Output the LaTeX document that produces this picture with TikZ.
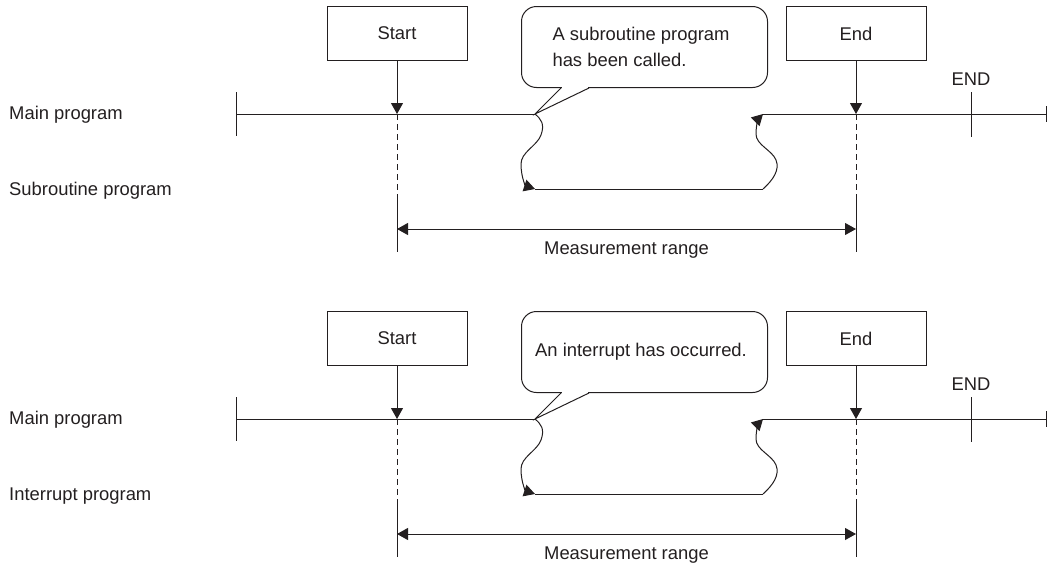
\documentclass[tikz,border=0pt]{standalone}
\usepackage{fontspec}
\setmainfont{Liberation Sans}
\usetikzlibrary{arrows.meta}
\definecolor{ink}{RGB}{35,31,32}
\tikzset{
  every node/.style={font=\fontsize{18.4}{26}\selectfont, text=ink, inner sep=0pt},
  line/.style={draw=ink, line width=1pt},
  tip/.style={-{Triangle[length=11pt,width=12pt]}},
  twotip/.style={{Triangle[length=11pt,width=12pt]}-{Triangle[length=11pt,width=12pt]}},
  labelbox/.style={line, rectangle, minimum width=140pt, minimum height=54pt},
  callbox/.style={line, rounded corners=15pt, minimum width=246pt, minimum height=81pt, fill=white},
  calltext/.style={align=left},
  dashline/.style={line, dash pattern=on 6pt off 4pt},
}
\newcommand\halfdiag[4]{%
\begin{scope}[yshift=-#2pt]
  % boxes
  \node[labelbox] (#1start) at (397,33.5) {Start};
  \node[labelbox] (#1end) at (856,33.5) {End};
  \node[callbox] (#1call) at (644.5,47) {};
  \node[calltext] (#1calltxt) at (641,47) {#3};
  % key points on the main line
  \coordinate (#1a) at (236,114);
  \coordinate (#1s) at (397,114);
  \coordinate (#1tip) at (535,114);
  \coordinate (#1w2) at (763,114);
  \coordinate (#1e) at (856,114);
  \coordinate (#1z) at (1046,114);
  \coordinate (#1b1) at (535,189);
  \coordinate (#1b2) at (763,189);
  \coordinate (#1sd) at (397,198);
  \coordinate (#1ed) at (856,198);
  \coordinate (#1sb) at (397,252);
  \coordinate (#1eb) at (856,252);
  \coordinate (#1ma) at (397,229);
  \coordinate (#1mb) at (856,229);
  % callout tail
  \fill[white] (562,86) rectangle (588,90);
  \draw[line, line join=miter] (561,88) -- (#1tip) -- (589,88);
  % main program line
  \draw[line] (#1a) -- (#1tip);
  \draw[line] (#1w2) -- (#1z);
  \draw[line] (236,92) -- (236,136);
  \draw[line] (971,92) -- (971,137);
  \draw[line] (1046,106) -- (1046,122);
  \node[anchor=base] (#1endlbl) at (971,85) {END};
  % start / end arrows
  \draw[line, tip] (#1start) -- (#1s);
  \draw[line, tip] (#1end) -- (#1e);
  % sub program excursion
  \draw[line, tip] (#1tip) .. controls (541,119) and (545,124) .. (541,135)
     .. controls (537,146) and (521,152) .. (521,164)
     .. controls (521,178) and (526,186) .. (#1b1);
  \draw[line] (#1b1) -- (#1b2);
  \draw[line, tip] (#1b2) .. controls (773,180) and (780,170) .. (776,160)
     .. controls (772,150) and (756,145) .. (756,134)
     .. controls (756,124) and (759,118) .. (#1w2);
  % measurement range
  \draw[dashline] (#1s) -- (#1sd);
  \draw[line] (#1sd) -- (#1sb);
  \draw[dashline] (#1e) -- (#1ed);
  \draw[line] (#1ed) -- (#1eb);
  \draw[line, twotip] (#1ma) -- (#1mb);
  \node[anchor=base] (#1mlbl) at (626.5,254) {Measurement range};
  % left labels
  \node[anchor=base west] (#1mainlbl) at (9,119) {Main program};
  \node[anchor=base west] (#1sublbl) at (9,195) {#4};
\end{scope}}
\begin{document}
\begin{tikzpicture}[x=1pt, y=-1pt]
  \useasboundingbox (0,0) rectangle (1047,565);
  \halfdiag{t}{0}{A subroutine program\\has been called.}{Subroutine program}
  \halfdiag{u}{305}{An interrupt has occurred.}{Interrupt program}
\end{tikzpicture}
\end{document}
